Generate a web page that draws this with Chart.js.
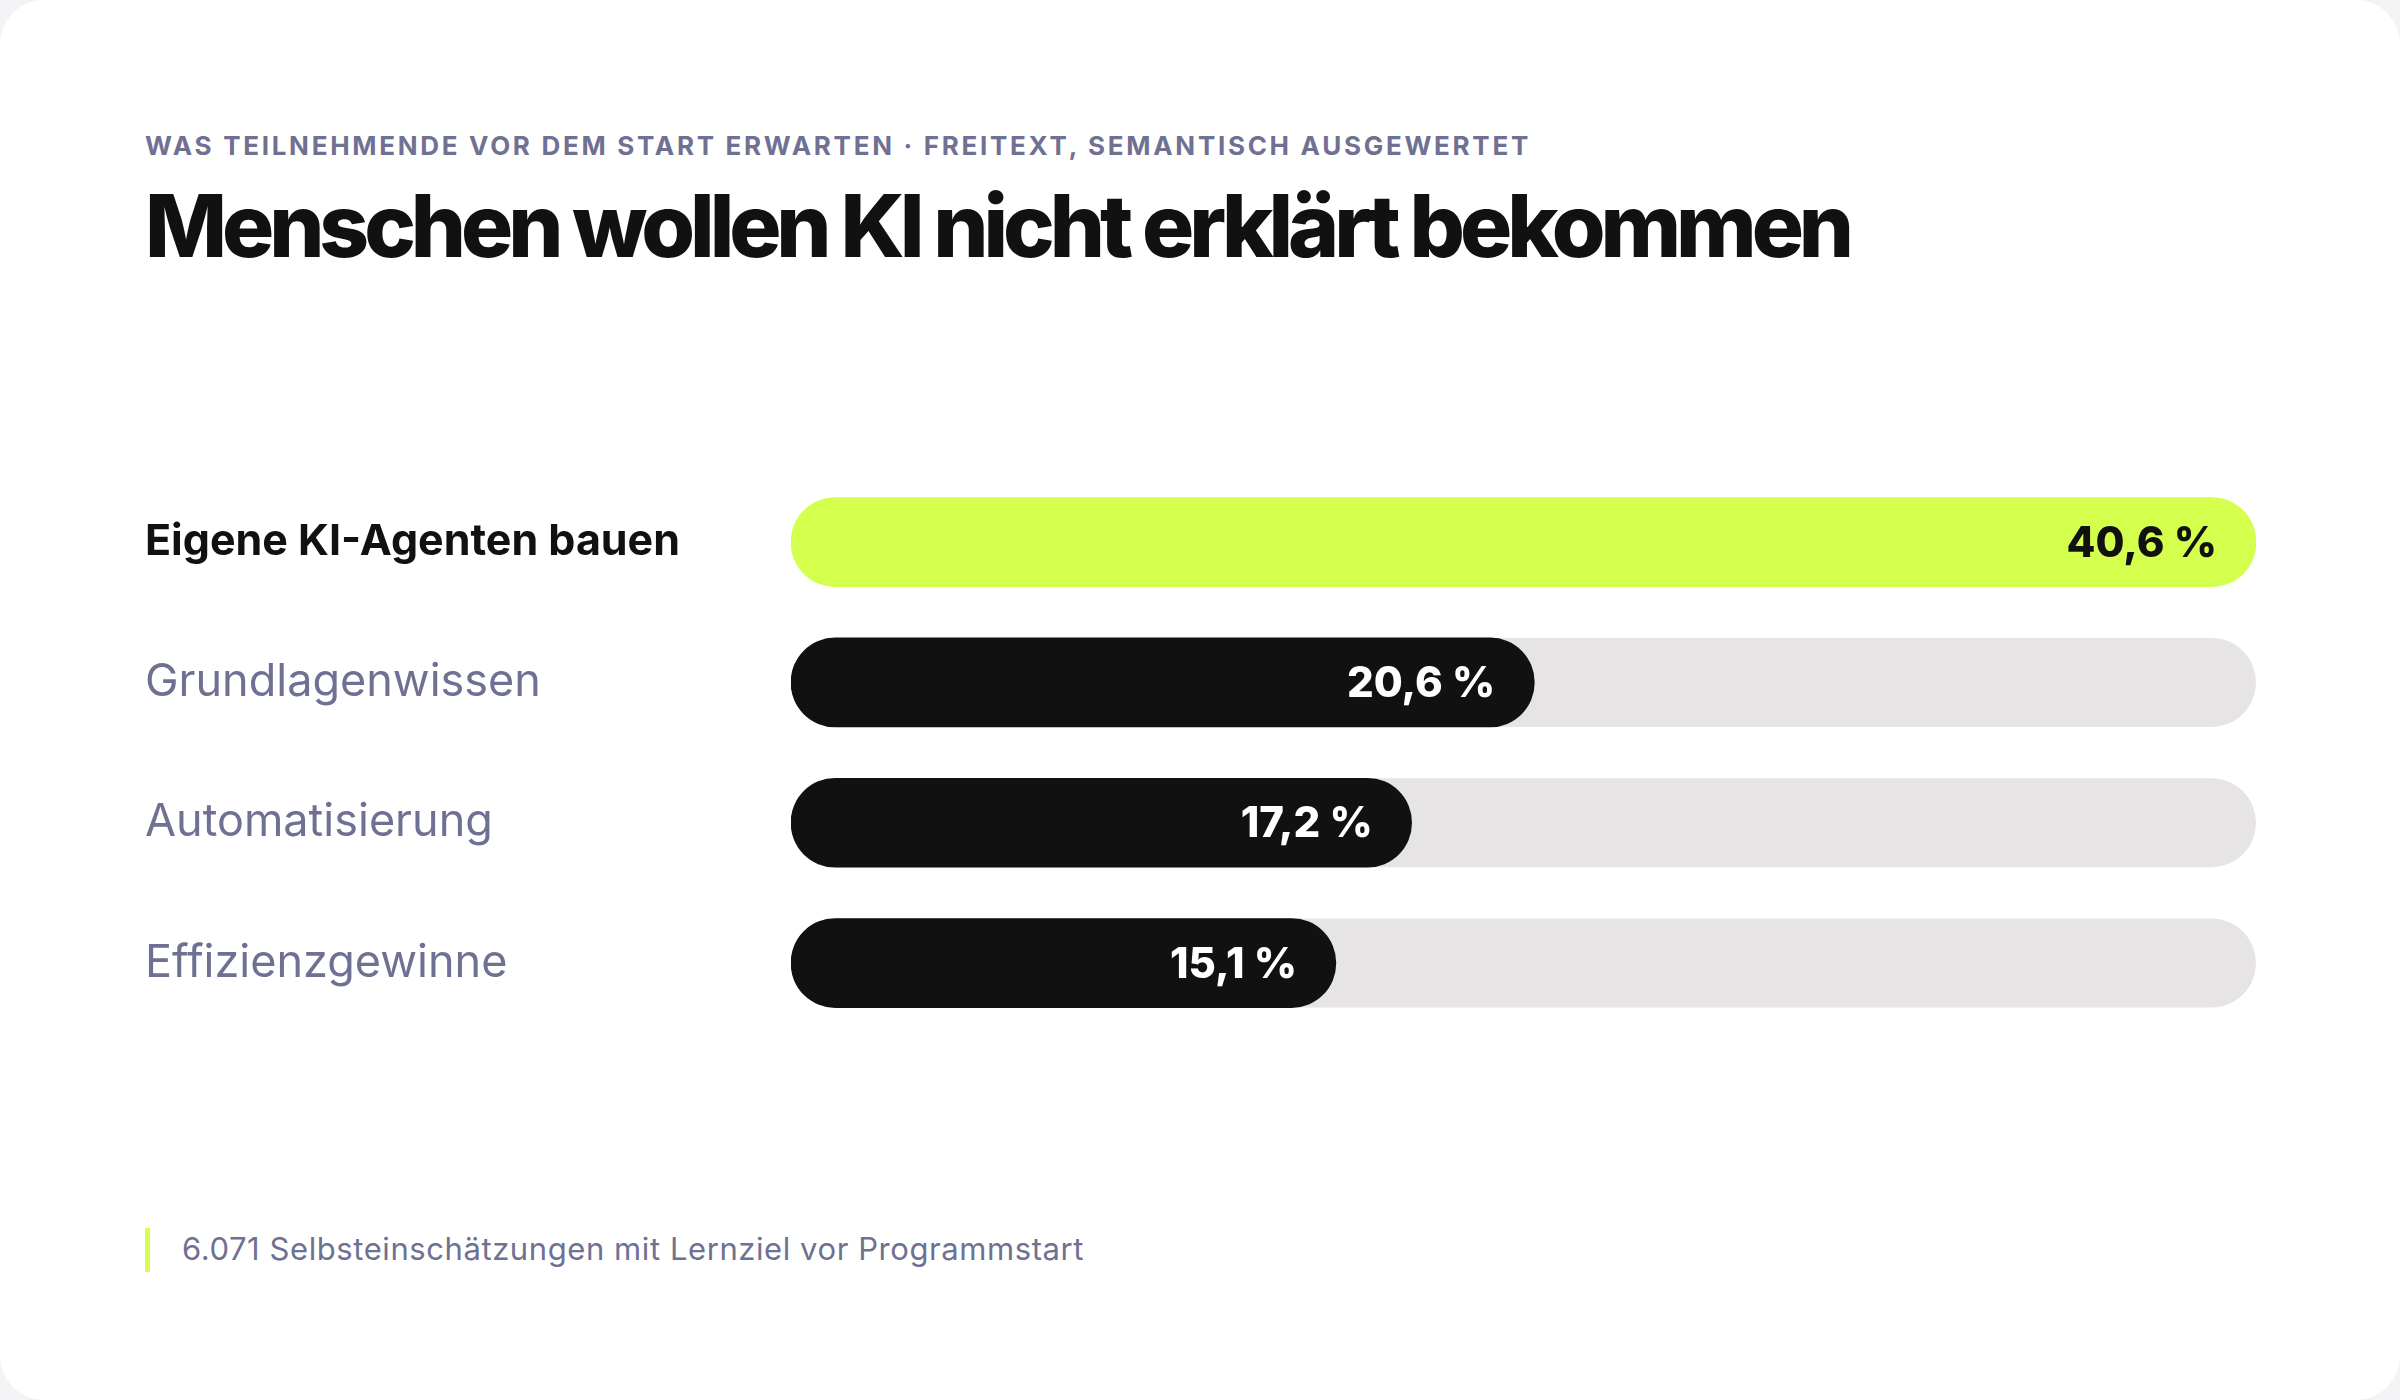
<!DOCTYPE html>
<html lang="de">
<head>
<meta charset="utf-8">
<script src="https://cdn.jsdelivr.net/npm/chart.js@4.4.1/dist/chart.umd.min.js"></script>
<style>
  html, body { margin:0; padding:0; }
  body { width:2400px; height:1400px; background:#f3f3f5; position:relative; overflow:hidden; font-family:Inter, "Noto Sans", sans-serif; }
  .card { position:absolute; left:0; top:0; width:2400px; height:1400px; background:#ffffff; border-radius:44px; }
  .kicker { position:absolute; left:145px; top:133px; font-size:26px; line-height:1; font-weight:700; color:#6f7193; letter-spacing:0.12em; white-space:nowrap; }
  .title { position:absolute; left:145px; top:182px; font-size:87px; line-height:1; font-weight:800; color:#111111; letter-spacing:-0.035em; white-space:nowrap; }
  .chartbox { position:absolute; left:145px; top:445px; width:2111px; height:614px; }
  .note { position:absolute; left:145px; top:1228px; height:44px; border-left:5px solid #d5ff4d; }
  .note span { position:absolute; left:32px; top:5px; font-size:31px; line-height:1; color:#6f7193; white-space:nowrap; letter-spacing:-0.01em; }
</style>
</head>
<body>
<div class="card"></div>
<div class="kicker" id="kicker">WAS TEILNEHMENDE VOR DEM START ERWARTEN · FREITEXT, SEMANTISCH AUSGEWERTET</div>
<div class="title" id="title">Menschen wollen KI nicht erklärt bekommen</div>
<div class="chartbox"><canvas id="c"></canvas></div>
<div class="note"><span id="note">6.071 Selbsteinschätzungen mit Lernziel vor Programmstart</span></div>
<script>
const categories = ["Eigene KI-Agenten bauen", "Grundlagenwissen", "Automatisierung", "Effizienzgewinne"];
const shares = [40.6, 20.6, 17.2, 15.1];
const highlightIndex = 0;

// fit header/footer text widths to the reference by adjusting letter-spacing
function fitWidth(id, target) {
  const el = document.getElementById(id);
  const n = el.textContent.length;
  const w = el.getBoundingClientRect().width;
  const cur = parseFloat(getComputedStyle(el).letterSpacing) || 0;
  el.style.letterSpacing = (cur + (target - w) / n) + 'px';
}
fitWidth('title', 1704);
fitWidth('kicker', 1386);
fitWidth('note', 902);

const LIME = '#d5ff4d', DARK = '#111111', TRACK = '#e6e4e4', MUTED = '#6f7193';

const trackPlugin = {
  id: 'track',
  beforeDatasetsDraw(chart) {
    const { ctx, chartArea } = chart;
    const meta = chart.getDatasetMeta(0);
    ctx.save();
    ctx.fillStyle = TRACK;
    meta.data.forEach(bar => {
      const h = bar.height;
      ctx.beginPath();
      ctx.roundRect(chartArea.left, bar.y - h / 2, chartArea.right - chartArea.left, h, h / 2);
      ctx.fill();
    });
    ctx.restore();
  }
};

const valuePlugin = {
  id: 'values',
  afterDatasetsDraw(chart) {
    const { ctx } = chart;
    const meta = chart.getDatasetMeta(0);
    ctx.save();
    ctx.font = '800 42px Inter';
    ctx.textAlign = 'right';
    ctx.textBaseline = 'middle';
    meta.data.forEach((bar, i) => {
      const v = chart.data.datasets[0].data[i];
      ctx.fillStyle = i === highlightIndex ? DARK : '#ffffff';
      ctx.fillText(v.toFixed(1).replace('.', ',') + ' %', bar.x - 39, bar.y + 2);
    });
    ctx.restore();
  }
};

new Chart(document.getElementById('c'), {
  type: 'bar',
  data: {
    labels: categories,
    datasets: [{
      data: shares,
      backgroundColor: ctx => ctx.dataIndex === highlightIndex ? LIME : DARK,
      borderRadius: 999,
      borderSkipped: false,
      barThickness: 89
    }]
  },
  options: {
    indexAxis: 'y',
    responsive: true,
    maintainAspectRatio: false,
    animation: false,
    layout: { padding: 0 },
    plugins: { legend: { display: false }, tooltip: { enabled: false } },
    scales: {
      x: { display: false, min: 0, max: Math.max(...shares) },
      y: {
        grid: { display: false },
        border: { display: false },
        afterFit(scale) { scale.width = 646; },
        ticks: {
          crossAlign: 'far',
          padding: 0,
          color: ctx => ctx.index === highlightIndex ? DARK : MUTED,
          font: ctx => ctx.index === highlightIndex
            ? { family: 'Inter', size: 43, weight: '700' }
            : { family: 'Inter', size: 45, weight: '400' }
        }
      }
    }
  },
  plugins: [trackPlugin, valuePlugin]
});
</script>
</body>
</html>
